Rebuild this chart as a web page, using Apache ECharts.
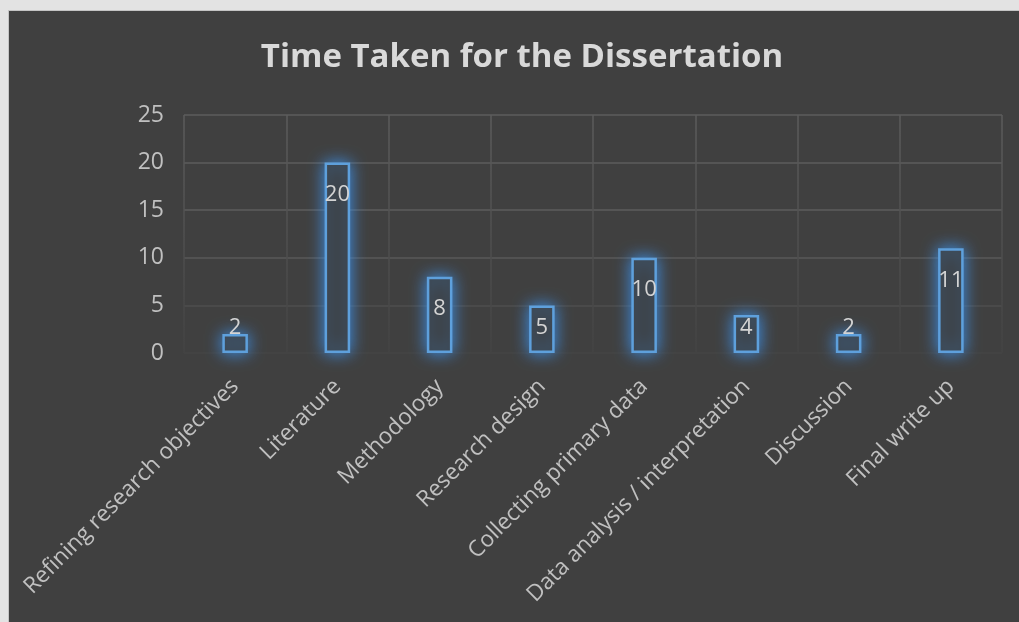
<!DOCTYPE html>
<html>
<head>
<meta charset="utf-8">
<script src="https://cdn.jsdelivr.net/npm/echarts@6/dist/echarts.min.js"></script>
<style>
html,body{margin:0;padding:0;background:#e3e3e3;width:1019px;height:622px;overflow:hidden;}
#frame{position:absolute;left:8px;top:10px;width:1011px;height:612px;background:#404040;border-left:1px solid #c4c4c4;border-top:1px solid #c4c4c4;}
#chart{width:1010px;height:611px;}
</style>
</head>
<body>
<div id="frame"><div id="chart"></div></div>
<script>
const titleText = 'Time Taken for the Dissertation';
const categories = ['Refining research objectives','Literature','Methodology','Research design','Collecting primary data','Data analysis / interpretation','Discussion','Final write up'];
const values = [2, 20, 8, 5, 10, 4, 2, 11];
const yTicks = [0, 5, 10, 15, 20, 25];

const W = 1010, H = 611;
const gridTop = 104, gridBottom = 269, gridLeft = 175, gridRight = 17;
const yMax = yTicks[yTicks.length - 1];
const pxPerUnit = (H - gridTop - gridBottom) / yMax;

const chart = echarts.init(document.getElementById('chart'), null, {renderer: 'canvas'});
const font = '"Open Sans", "Noto Sans", sans-serif';

const data = values.map(v => {
  const item = {value: v};
  if (v * pxPerUnit < 56) {
    item.label = {position: 'insideBottom', distance: 14};
  }
  return item;
});

chart.setOption({
  backgroundColor: '#404040',
  animation: false,
  title: {
    text: titleText,
    left: 508, top: 25,
    textAlign: 'center',
    textStyle: {color: '#d9d9d9', fontSize: 33, fontWeight: 'bold', fontFamily: font}
  },
  grid: {top: gridTop, bottom: gridBottom, left: gridLeft, right: gridRight, containLabel: false},
  xAxis: {
    type: 'category',
    data: categories,
    axisLine: {show: false},
    axisTick: {show: false},
    axisLabel: {
      rotate: 45, interval: 0, margin: 30,
      color: '#c0c0c0', fontSize: 22.5, fontFamily: font
    },
    splitLine: {
      show: true,
      lineStyle: {
        width: 1.5,
        color: new echarts.graphic.LinearGradient(0, 0, 0, 1, [
          {offset: 0, color: '#5c5c5c'},
          {offset: 1, color: '#434343'}
        ])
      }
    }
  },
  yAxis: {
    type: 'value',
    min: 0, max: yMax, interval: 5,
    axisLine: {show: false},
    axisTick: {show: false},
    axisLabel: {color: '#c0c0c0', fontSize: 23, fontFamily: font, margin: 20},
    splitLine: {
      show: true,
      lineStyle: {width: 1.5, color: ['#444444', '#4e4e4e', '#585858', '#5c5c5c', '#5c5c5c', '#5c5c5c']}
    }
  },
  series: [{
    type: 'bar',
    data: data,
    barWidth: '25%',
    itemStyle: {
      color: '#3d3d3d',
      borderColor: '#5ea0dc',
      borderWidth: 2.5,
      shadowColor: 'rgba(60,145,235,1)',
      shadowBlur: 16
    },
    label: {
      show: true,
      position: 'insideTop',
      distance: 21,
      color: '#d4d4d4',
      fontSize: 22,
      fontFamily: font
    }
  }]
});
</script>
</body>
</html>
